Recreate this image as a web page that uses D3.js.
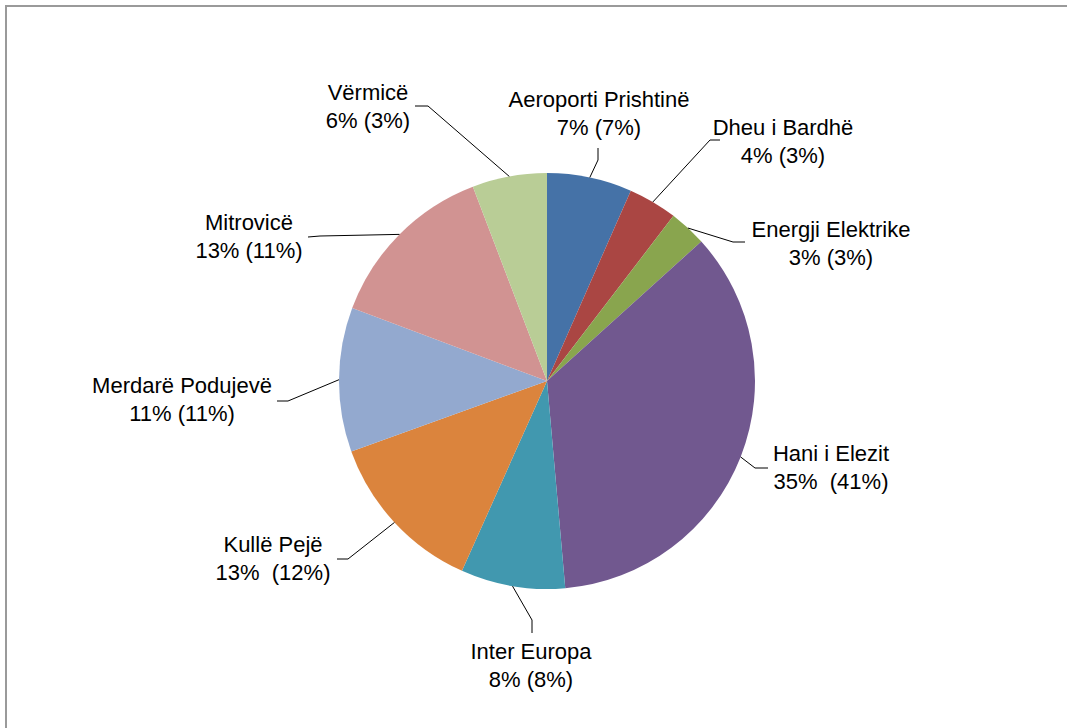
<!DOCTYPE html>
<html>
<head>
<meta charset="utf-8">
<script src="https://cdn.jsdelivr.net/npm/d3@7"></script>
<style>
  html, body { margin: 0; padding: 0; background: #fff; }
  svg { display: block; }
  text { font-family: "Liberation Sans", Arial, sans-serif; font-size: 22px; fill: #000; white-space: pre; }
</style>
</head>
<body>
<svg id="chart" width="1067" height="728"></svg>
<script>
// ---- data ----
const categories = ["Aeroporti Prishtinë", "Dheu i Bardhë", "Energji Elektrike", "Hani i Elezit",
  "Inter Europa", "Kullë Pejë", "Merdarë Podujevë", "Mitrovicë", "Vërmicë"];
const shares = [6.6, 3.8, 2.9, 35.3, 8.1, 12.8, 11.2, 13.5, 5.8];
const shareLabels = ["7%", "4%", "3%", "35%", "8%", "13%", "11%", "13%", "6%"];
const prevLabels = ["(7%)", "(3%)", "(3%)", "(41%)", "(8%)", "(12%)", "(11%)", "(11%)", "(3%)"];
const separators = [" ", " ", " ", "  ", " ", "  ", " ", " ", " "];
const colors = ["#4572A7", "#AA4643", "#89A54E", "#71588F", "#4198AF", "#DB843D", "#93A9CF", "#D19392", "#B9CD96"];

// ---- layout (label centres / first baselines, leader elbows and ends) ----
const labelX = [599, 783, 831, 831, 531, 273, 182, 249, 368];
const labelY = [107, 135, 237, 461, 659, 552, 393, 230, 100];
const elbowPts = [[598,160],[710,140],[733,242],[755,468],[532,620],[348,559],[288,401],[320,236],[428,106]];
const endPts = [[598,148],[720,140],[745,242],[768,468],[532,633],[337,559],[277,401],[308,237],[415,106]];

const svg = d3.select("#chart");
const cx = 547, cy = 381, r = 208;

// frame
svg.append("rect").attr("x", 6).attr("y", 6).attr("width", 1080).attr("height", 740)
  .attr("fill", "none").attr("stroke", "#9a9a9a").attr("stroke-width", 2);

const pie = d3.pie().sort(null).value(d => d);
const arcs = pie(shares);
const arc = d3.arc().innerRadius(0).outerRadius(r);
const edgeArc = d3.arc().innerRadius(r).outerRadius(r);

const g = svg.append("g").attr("transform", `translate(${cx},${cy})`);
g.selectAll("path").data(arcs).enter().append("path")
  .attr("d", arc).attr("fill", (d, i) => colors[i]);

// leader lines
const line = d3.line();
svg.append("g").selectAll("path").data(arcs).enter().append("path")
  .attr("d", (d, i) => {
    const c = edgeArc.centroid(d);
    return line([[cx + c[0], cy + c[1]], elbowPts[i], endPts[i]]);
  })
  .attr("fill", "none").attr("stroke", "#000").attr("stroke-width", 1);

// labels
const lg = svg.append("g");
categories.forEach((name, i) => {
  const t = lg.append("text").attr("text-anchor", "middle").attr("xml:space", "preserve");
  t.append("tspan").attr("x", labelX[i]).attr("y", labelY[i]).text(name);
  t.append("tspan").attr("x", labelX[i]).attr("y", labelY[i] + 28)
    .text(shareLabels[i] + separators[i] + prevLabels[i]);
});
</script>
</body>
</html>
